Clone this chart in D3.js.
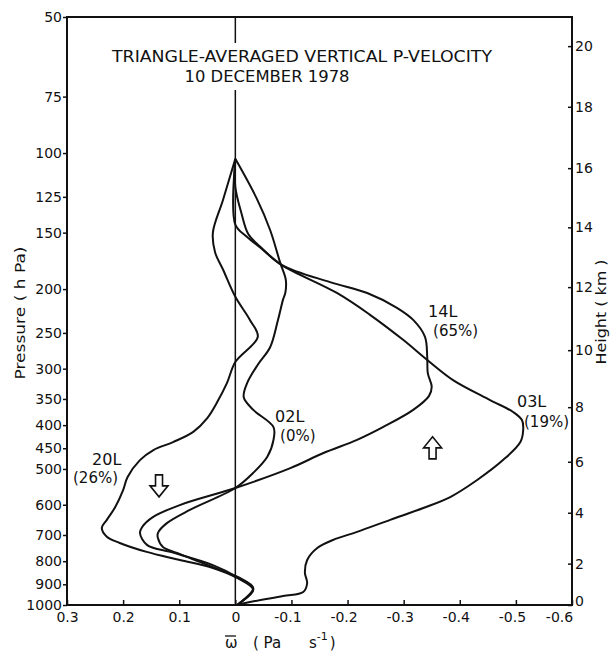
<!DOCTYPE html>
<html>
<head>
<meta charset="utf-8">
<script src="https://cdn.jsdelivr.net/npm/d3@7"></script>
<style>
  body { margin: 0; background: #fff; }
  svg text { font-family: "DejaVu Sans", sans-serif; fill: #111; }
</style>
</head>
<body>
<svg id="chart" width="610" height="653"></svg>
<script>
// TICKS
const pressureTicks = [50, 75, 100, 125, 150, 200, 250, 300, 350, 400, 450, 500, 600, 700, 800, 900, 1000];
const heightTicks = [0, 2, 4, 6, 8, 10, 12, 14, 16, 18, 20];          // km
const heightPressure = [1000, 810, 625, 482, 365, 273, 198, 146, 108, 79, 58]; // hPa where each km tick sits
const omegaTicks = [0.3, 0.2, 0.1, 0, -0.1, -0.2, -0.3, -0.4, -0.5, -0.6];

// PROFILES  [pressure (hPa), omega (Pa/s)]
const profile20L = [
  [103, 0], [127, 0.022], [150, 0.040], [166, 0.036], [181, 0.022], [208, 0], [234, -0.026],
  [255, -0.040], [290, 0], [323, 0.015], [357, 0.033], [386, 0.050], [414, 0.075], [436, 0.111],
  [454, 0.146], [478, 0.170], [521, 0.192], [557, 0.200], [607, 0.214], [648, 0.229], [675, 0.238],
  [706, 0.229], [729, 0.206], [763, 0.158], [795, 0.099], [828, 0.040], [871, -0.003],
  [926, -0.032], [990, -0.008], [1000, -0.003]
];
const profile02L = [
  [103, 0], [126, -0.038], [148, -0.062], [175, -0.080], [191, -0.090], [204, -0.089], [211, -0.085],
  [234, -0.076], [269, -0.062], [294, -0.040], [323, -0.021], [347, -0.015], [370, -0.032],
  [404, -0.068], [431, -0.068], [470, -0.057], [510, -0.032], [551, 0], [616, 0.081], [659, 0.122],
  [693, 0.138], [711, 0.138], [744, 0.129], [767, 0.104], [837, 0.027], [871, -0.008],
  [917, -0.032], [990, -0.008], [1000, -0.003]
];
const profile14L = [
  [103, 0], [119, 0], [136, -0.011], [151, -0.023], [161, -0.044], [177, -0.083], [193, -0.169],
  [204, -0.235], [220, -0.288], [234, -0.317], [255, -0.338], [283, -0.342], [307, -0.343],
  [329, -0.350], [345, -0.345], [370, -0.317], [404, -0.263], [431, -0.217], [461, -0.157],
  [498, -0.098], [551, 0], [601, 0.099], [639, 0.147], [672, 0.166], [693, 0.170], [737, 0.157],
  [763, 0.116], [816, 0.040], [867, -0.003], [921, -0.032], [990, -0.008], [1000, -0.003]
];
const profile03L = [
  [103, 0], [144, 0], [153, -0.020], [164, -0.050], [177, -0.083], [204, -0.181], [228, -0.240],
  [259, -0.299], [287, -0.342], [318, -0.388], [352, -0.454], [374, -0.495], [390, -0.511],
  [410, -0.513], [436, -0.508], [478, -0.477], [529, -0.431], [577, -0.383], [610, -0.335],
  [648, -0.276], [689, -0.217], [718, -0.174], [748, -0.146], [795, -0.128], [849, -0.124],
  [894, -0.128], [936, -0.121], [955, -0.085], [985, -0.026], [1000, -0.003]
];

const profiles = [profile20L, profile02L, profile14L, profile03L];

// curve labels, anchored at omega / pressure of the first line
const labels = [
  {name: "14L", pct: "(65%)", omega: -0.3435, p: 231, dx: 5, dy: 19},
  {name: "03L", pct: "(19%)", omega: -0.502, p: 365, dx: 7, dy: 20},
  {name: "02L", pct: "(0%)", omega: -0.0708, p: 394, dx: 5, dy: 19},
  {name: "20L", pct: "(26%)", omega: 0.2554, p: 490, dx: -19, dy: 18}
];

// hollow arrows (sinking / rising)
const arrows = [
  {omega: 0.136, p: 545, dir: 1},
  {omega: -0.3515, p: 449, dir: -1}
];

const svg = d3.select("#chart");
const width = 610, height = 653;
const mLeft = 67, mRight = 572, mTop = 17, mBottom = 605;

svg.append("rect").attr("width", width).attr("height", height).attr("fill", "#fff");

const x = d3.scaleLinear().domain([0.3, -0.6]).range([mLeft, mRight]);
const y = d3.scaleLog().domain([50, 1000]).range([mTop, mBottom]);

// left pressure axis
const gLeft = svg.append("g")
  .attr("transform", `translate(${mLeft},0)`)
  .call(d3.axisLeft(y).tickValues(pressureTicks).tickFormat(d => d).tickSize(4).tickPadding(1));

// right height axis
const gRight = svg.append("g")
  .attr("transform", `translate(${mRight},0)`)
  .call(d3.axisRight(y).tickValues(heightPressure).tickFormat((d, i) => heightTicks[i])
    .tickSizeInner(-4).tickSizeOuter(0).tickPadding(3));

// bottom omega axis
const gBottom = svg.append("g")
  .attr("transform", `translate(0,${mBottom})`)
  .call(d3.axisBottom(x).tickValues(omegaTicks).tickFormat(d => String(d))
    .tickSizeInner(-5).tickSizeOuter(0).tickPadding(7));

[gLeft, gRight, gBottom].forEach(g => {
  g.attr("font-size", 14).attr("font-family", null);
  g.select(".domain").remove();
  g.selectAll(".tick line").attr("stroke", "#111").attr("stroke-width", 1.5);
});

// the minus sign hangs to the left of the number, as on the original
gBottom.selectAll(".tick text")
  .attr("dx", d => d < 0 ? -4 : 0);
gBottom.selectAll(".tick text")
  .filter(d => d === -0.6)
  .attr("dx", -13);
// the surface label on the height axis sits a touch high
gRight.selectAll(".tick text")
  .filter(d => d === 1000)
  .attr("dy", "0.05em");

// frame
svg.append("rect")
  .attr("x", mLeft).attr("y", mTop)
  .attr("width", mRight - mLeft).attr("height", mBottom - mTop)
  .attr("fill", "none").attr("stroke", "#111").attr("stroke-width", 2);

// zero line, broken where the title sits
const titleGap = [43, 90];
[[mTop, titleGap[0]], [titleGap[1], mBottom]].forEach(seg => {
  svg.append("line")
    .attr("x1", x(0)).attr("x2", x(0))
    .attr("y1", seg[0]).attr("y2", seg[1])
    .attr("stroke", "#111").attr("stroke-width", 1.5);
});

// profiles
const line = d3.line()
  .x(d => x(d[1]))
  .y(d => y(d[0]))
  .curve(d3.curveCatmullRom.alpha(0.5));

svg.selectAll("path.profile")
  .data(profiles)
  .join("path")
  .attr("class", "profile")
  .attr("d", line)
  .attr("fill", "none")
  .attr("stroke", "#111")
  .attr("stroke-width", 2)
  .attr("stroke-linejoin", "round");

// labels
labels.forEach(l => {
  const lx = x(l.omega), ly = y(l.p);
  svg.append("text")
    .attr("x", lx).attr("y", ly)
    .attr("font-size", 16)
    .text(l.name);
  svg.append("text")
    .attr("x", lx + l.dx).attr("y", ly + l.dy)
    .attr("font-size", 15)
    .text(l.pct);
});

// arrows
arrows.forEach(a => {
  const cx = x(a.omega), cy = y(a.p), s = a.dir;
  const pts = [
    [cx - 3.5, cy - 11 * s], [cx + 3.5, cy - 11 * s], [cx + 3.5, cy], [cx + 9, cy],
    [cx, cy + 11 * s], [cx - 9, cy], [cx - 3.5, cy]
  ];
  svg.append("path")
    .attr("d", "M" + pts.map(p => p.join(",")).join("L") + "Z")
    .attr("fill", "#fff")
    .attr("stroke", "#111")
    .attr("stroke-width", 1.6)
    .attr("stroke-linejoin", "miter");
});

// title
svg.append("text")
  .attr("x", 302).attr("y", 62)
  .attr("text-anchor", "middle")
  .attr("font-size", 16)
  .attr("textLength", 380).attr("lengthAdjust", "spacingAndGlyphs")
  .text("TRIANGLE-AVERAGED VERTICAL P-VELOCITY");
svg.append("text")
  .attr("x", 267).attr("y", 82)
  .attr("text-anchor", "middle")
  .attr("font-size", 16)
  .attr("textLength", 165).attr("lengthAdjust", "spacingAndGlyphs")
  .text("10 DECEMBER 1978");

// axis titles
svg.append("text")
  .attr("transform", "translate(25,313) rotate(-90)")
  .attr("text-anchor", "middle")
  .attr("font-size", 14)
  .attr("textLength", 133).attr("lengthAdjust", "spacingAndGlyphs")
  .text("Pressure ( h Pa)");

svg.append("text")
  .attr("transform", "translate(606,312) rotate(-90)")
  .attr("text-anchor", "middle")
  .attr("font-size", 14)
  .attr("textLength", 105).attr("lengthAdjust", "spacingAndGlyphs")
  .text("Height ( km )");

const xTitle = svg.append("text")
  .attr("x", 225).attr("y", 648)
  .attr("font-size", 15);
xTitle.append("tspan").text("ω");
xTitle.append("tspan").attr("x", 253).text("( Pa");
xTitle.append("tspan").attr("x", 309).text("s");
xTitle.append("tspan").attr("dy", -8).attr("font-size", 11).text("-1");
xTitle.append("tspan").attr("dy", 8).attr("dx", 2).text(")");
svg.append("line")
  .attr("x1", 225).attr("x2", 236)
  .attr("y1", 636).attr("y2", 636)
  .attr("stroke", "#111").attr("stroke-width", 1.3);
</script>
</body>
</html>
